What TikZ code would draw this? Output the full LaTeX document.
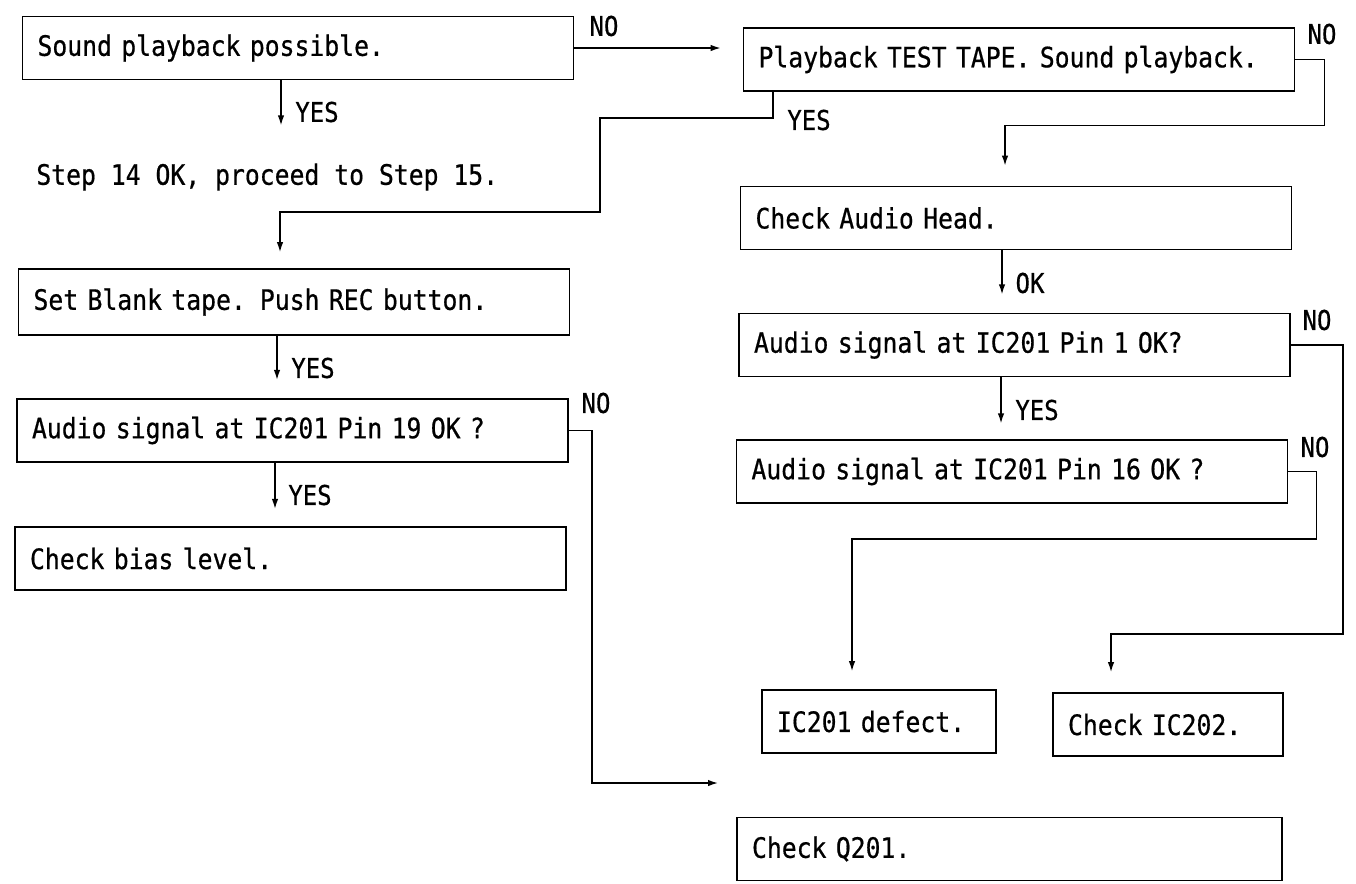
\documentclass[tikz,border=0pt]{standalone}
\usepackage{fontspec}
\newfontfamily\tapefont[FakeStretch=0.88, FakeBold=0.6]{DejaVu Sans Mono}
\usetikzlibrary{arrows.meta}

\tikzset{
  tbox/.style={draw, line width=1pt, inner xsep=3mm, inner ysep=0pt, minimum height=12.6mm,
    text width=#1, align=left, font=\tapefont\fontsize{16pt}{19pt}\selectfont},
  tbox/.default=104.2mm,
  lbl/.style={inner sep=0pt, font=\tapefont\fontsize{15.5pt}{18pt}\selectfont},
  arr/.style={line width=0.8pt, -{Latex[length=2mm,width=1.3mm]}},
}

\begin{document}
\begin{tikzpicture}[x=0.2mm, y=-0.2mm]
        \useasboundingbox (0,0) rectangle (1356,883);

        % Left column
        \node[tbox] (b1) at (298,48) {Sound playback possible.};
        \node[lbl, anchor=west, font=\tapefont\fontsize{16pt}{19pt}\selectfont] (step) at (36,177) {Step 14 OK, proceed to Step 15.};
        \node[tbox, minimum height=13.2mm] (b6) at (294,302) {Set Blank tape. Push REC button.};
        \node[tbox] (b7) at (292.5,430.5) {Audio signal at IC201 Pin 19 OK ?};
        \node[tbox] (b8) at (290.5,558.5) {Check bias level.};

        % Right column
        \node[tbox] (b2) at (1019,59.5) {Playback TEST TAPE. Sound playback.};
        \node[tbox] (b3) at (1016,218) {Check Audio Head.};
        \node[tbox] (b4) at (1014.5,345) {Audio signal at IC201 Pin 1 OK?};
        \node[tbox] (b5) at (1012,471.5) {Audio signal at IC201 Pin 16 OK ?};
        \node[tbox=40.8mm] (d1) at (879,721.5) {IC201 defect.};
        \node[tbox=40mm] (d2) at (1168,724.5) {Check IC202.};
        \node[tbox=103mm] (d3) at (1009.5,849) {Check Q201.};
        \coordinate (q1) at (718,783);

        % YES / NO / OK arrows
        \draw[arr, shorten >=4.4mm] (b1.east) -- (b1.east -| b2.west);
        \node[lbl] (no1) at (604,26) {NO};
        \draw[arr] ([xshift=-3.4mm]b1.south) -- ++(0,45);
        \node[lbl] (yes1) at (317,112) {YES};

        \draw[arr, shorten >=3.2mm] ([xshift=-49.2mm]b2.south) -- ++(0,26) -- ++(-173,0) -- ++(0,94) -| ([xshift=-2.8mm]b6.north);
        \node[lbl] (yes2) at (809,120) {YES};
        \draw[arr, shorten >=4mm] (b2.east) -- ++(29,0) -- ++(0,66) -| ([xshift=-2.2mm]b3.north);
        \node[lbl] (no2) at (1322,34) {NO};

        \draw[arr] ([xshift=-2.8mm]b3.south) -- ++(0,44);
        \node[lbl] (ok3) at (1030,283) {OK};

        \draw[arr] ([xshift=-2.7mm]b4.south) -- ++(0,46);
        \node[lbl] (yes4) at (1037,410) {YES};
        \draw[arr, shorten >=4mm] (b4.east) -- ++(52,0) -- ++(0,289) -| ([xshift=-11.4mm]d2.north);
        \node[lbl] (no4) at (1317,320) {NO};

        \draw[arr, shorten >=3.6mm] (b5.east) -- ++(28,0) -- ++(0,67.5) -| ([xshift=-5.4mm]d1.north);
        \node[lbl] (no5) at (1315,447) {NO};

        \draw[arr] ([xshift=-3.4mm]b6.south) -- ++(0,44);
        \node[lbl] (yes6) at (313,368) {YES};

        \draw[arr] ([xshift=-3.5mm]b7.south) -- ++(0,46);
        \node[lbl] (yes7) at (310,495) {YES};
        \draw[arr] (b7.east) -- ++(23,0) |- (q1);
        \node[lbl] (no7) at (596,403) {NO};
\end{tikzpicture}
\end{document}
